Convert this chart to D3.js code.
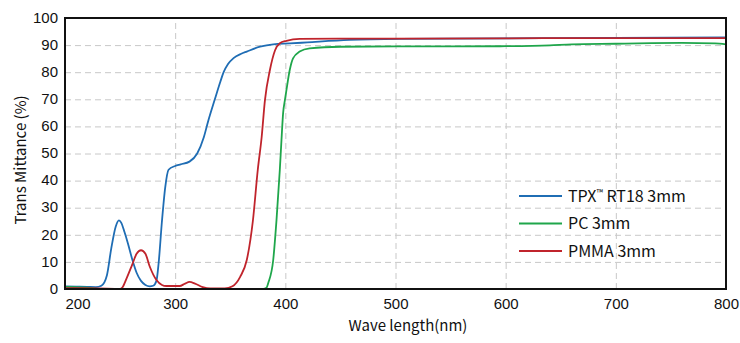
<!DOCTYPE html>
<html>
<head>
<meta charset="utf-8">
<script src="https://cdn.jsdelivr.net/npm/d3@7"></script>
<style>
  body { margin: 0; background: #fff; }
  svg { display: block; font-family: "Noto Sans CJK JP", "Noto Sans", sans-serif; }
  .grid line { stroke: #c8c8c8; stroke-dasharray: 6 4; stroke-width: 1; }
  .grid path { display: none; }
  .axis path, .axis line { display: none; }
  .axis text { font-size: 15px; fill: #111; }
</style>
</head>
<body>
<svg id="svg" width="740" height="343"></svg>
<script>
"use strict";

// transmittance spectra, 3mm sheets
const tpxWave = [200, 210, 220, 228, 233, 238, 242, 246, 249, 251, 254, 257, 261, 265, 269, 273, 277, 280, 283, 285, 288, 291, 294, 300, 305, 313, 320, 326, 330, 336, 341, 344, 348, 353, 360, 365, 377, 389, 404, 420, 458, 504, 600, 700, 800];
const tpxValue = [1.0, 0.9, 0.8, 0.7, 1.2, 5, 15, 23, 25.3, 24.5, 21, 17, 11, 6, 3, 1.5, 1.0, 1.2, 3, 9.6, 25, 37.6, 44, 45.4, 46, 47, 50, 56, 62, 70, 76.5, 80, 83, 85.2, 86.8, 87.6, 89.4, 90.3, 90.6, 91, 91.9, 92.3, 92.5, 92.7, 92.8];

const pcWave = [200, 215, 225, 232, 380, 383, 384.5, 389, 392, 395, 396.5, 398, 399.6, 401, 404, 407, 413, 422, 450, 500, 550, 600, 640, 660, 700, 760, 790, 800];
const pcValue = [0.8, 0.6, 0.3, 0, 0, 0.5, 2.2, 10.7, 25.5, 44, 55, 65, 69.7, 73.4, 80.8, 85.1, 87.6, 88.8, 89.4, 89.5, 89.5, 89.6, 89.9, 90.3, 90.5, 90.8, 90.6, 90.3];

const pmmaWave = [200, 230, 250, 252, 256, 261, 265, 269, 273, 277, 283, 288, 292, 304, 309, 313, 318, 325, 332, 345, 352, 359, 365, 370.5, 375, 378.5, 381.5, 386, 390.6, 395, 401, 413, 500, 600, 700, 800];
const pmmaValue = [0.3, 0.2, 0, 0.5, 4, 9, 13, 14.3, 13, 8.2, 3.3, 1.5, 1.1, 1.1, 2, 2.6, 2, 0.7, 0.2, 0.2, 1, 4.5, 10.7, 25, 44, 56, 69.7, 80.8, 88, 90.7, 91.6, 92.3, 92.4, 92.5, 92.6, 92.6];

const seriesNames = ["TPX\u2122 RT18 3mm", "PC 3mm", "PMMA 3mm"];
const seriesColors = ["#1f6db4", "#1fa64b", "#c0242c"];

const xTicks = [200, 300, 400, 500, 600, 700, 800];
const yTicks = [0, 10, 20, 30, 40, 50, 60, 70, 80, 90, 100];

var svg = d3.select("svg");

const plotLeft = 65, plotRight = 726, plotTop = 18, plotBottom = 289;

var x = d3.scaleLinear().domain([200, 800]).range([plotLeft, plotRight]);
var y = d3.scaleLinear().domain([0, 100]).range([plotBottom, plotTop]);

// dashed grid
svg.append("g")
    .attr("class", "grid")
    .attr("transform", "translate(0," + plotBottom + ")")
    .call(d3.axisBottom(x).tickValues(xTicks.slice(1, -1)).tickSize(-(plotBottom - plotTop)).tickFormat(""));

svg.append("g")
    .attr("class", "grid")
    .attr("transform", "translate(" + plotLeft + ",0)")
    .call(d3.axisLeft(y).tickValues(yTicks.slice(1, -1)).tickSize(-(plotRight - plotLeft)).tickFormat(""));

// tick labels
var xAxis = svg.append("g")
    .attr("class", "axis")
    .attr("transform", "translate(0," + plotBottom + ")")
    .call(d3.axisBottom(x).tickValues(xTicks).tickSize(0).tickPadding(9).tickFormat(d3.format("d")));
xAxis.selectAll("text")
    .filter(d => d === 200)
    .attr("text-anchor", "start");

svg.append("g")
    .attr("class", "axis")
    .attr("transform", "translate(" + plotLeft + ",0)")
    .call(d3.axisLeft(y).tickValues(yTicks).tickSize(0).tickPadding(7).tickFormat(d3.format("d")))
    .selectAll("text")
    .attr("dy", "0.28em");

// curves
var line = d3.line()
    .x(d => x(d[0]))
    .y(d => y(d[1]))
    .curve(d3.curveMonotoneX);

var series = [
    d3.zip(tpxWave, tpxValue),
    d3.zip(pcWave, pcValue),
    d3.zip(pmmaWave, pmmaValue)
];

svg.append("g")
    .selectAll("path")
    .data(series)
    .enter()
    .append("path")
        .attr("d", line)
        .attr("fill", "none")
        .attr("stroke", (d, i) => seriesColors[i])
        .attr("stroke-width", 1.8)
        .attr("stroke-linejoin", "round");

// frame
svg.append("rect")
    .attr("x", plotLeft)
    .attr("y", plotTop)
    .attr("width", plotRight - plotLeft)
    .attr("height", plotBottom - plotTop)
    .attr("fill", "none")
    .attr("stroke", "#111")
    .attr("stroke-width", 2);

// legend
var legend = svg.append("g")
    .selectAll("g")
    .data(seriesNames)
    .enter()
    .append("g")
        .attr("transform", (d, i) => "translate(519," + (196 + i * 27.5) + ")");

legend.append("line")
    .attr("x1", 0)
    .attr("x2", 43)
    .attr("stroke", (d, i) => seriesColors[i])
    .attr("stroke-width", 1.8);

// the trademark sign is set small and raised
legend.append("text")
    .attr("x", 49)
    .attr("y", 5.5)
    .attr("font-size", 16)
    .attr("fill", "#111")
    .each(function(d) {
        var parts = d.split("\u2122");
        var t = d3.select(this);
        t.append("tspan").text(parts[0]);
        if (parts.length > 1) {
            t.append("tspan")
                .attr("font-size", 9)
                .attr("y", 0)
                .text("\u2122");
            t.append("tspan")
                .attr("y", 5.5)
                .text(parts[1]);
        }
    });

// axis titles
svg.append("text")
    .attr("transform", "translate(21,160) rotate(-90)")
    .attr("text-anchor", "middle")
    .attr("dy", "0.35em")
    .attr("font-size", 15)
    .attr("fill", "#111")
    .text("Trans Mittance (%)");

svg.append("text")
    .attr("x", 408)
    .attr("y", 326)
    .attr("text-anchor", "middle")
    .attr("dy", "0.35em")
    .attr("font-size", 15)
    .attr("fill", "#111")
    .text("Wave length(nm)");
</script>
</body>
</html>
